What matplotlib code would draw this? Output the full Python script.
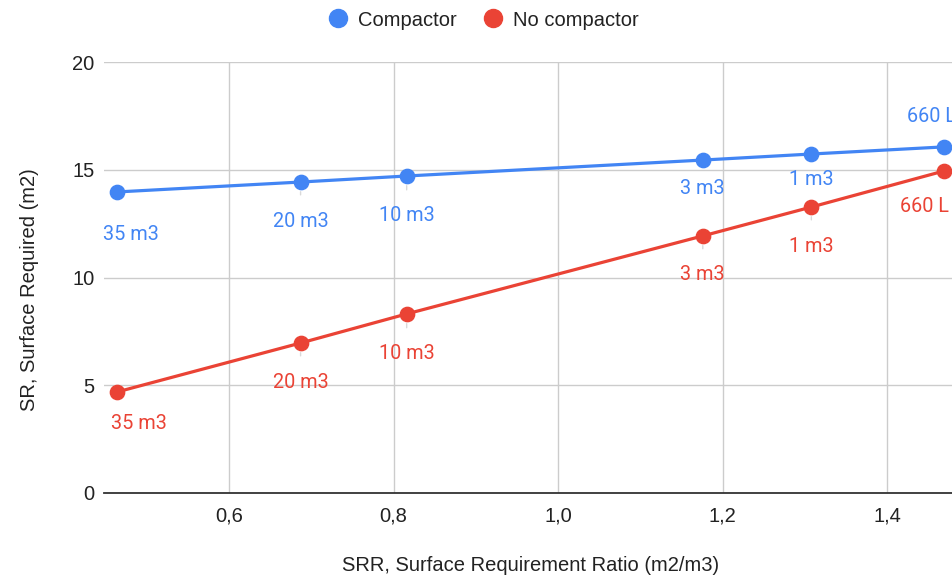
import matplotlib.pyplot as plt
from matplotlib.lines import Line2D

plt.rcParams['font.family'] = ['Liberation Sans', 'DejaVu Sans']

# data
srr = [0.464, 0.687, 0.816, 1.176, 1.308, 1.469]
sr_compactor = [13.97, 14.43, 14.71, 15.45, 15.73, 16.06]
sr_no_compactor = [4.69, 6.96, 8.31, 11.93, 13.27, 14.94]
point_labels = ['35 m3', '20 m3', '10 m3', '3 m3', '1 m3', '660 L']
x_ticks = [0.6, 0.8, 1.0, 1.2, 1.4]
x_tick_labels = ['0,6', '0,8', '1,0', '1,2', '1,4']
y_ticks = [0, 5, 10, 15, 20]

blue = '#4285F4'
red = '#EA4335'
txt = '#222222'

fig = plt.figure(figsize=(9.52, 5.77), dpi=100)
ax = fig.add_axes([104 / 952, 1 - 493 / 577, 1 - 104 / 952, (493 - 62) / 577])

ax.plot(srr, sr_compactor, color=blue, lw=2.3, marker='o', ms=10.3, zorder=3)
ax.plot(srr, sr_no_compactor, color=red, lw=2.3, marker='o', ms=10.3, zorder=3)

# label offsets in pixels (dx, dy)
blue_offsets = [(14, -43), (0, -39), (0, -40), (0, -28), (0, -25), (-12, 30)]
red_offsets = [(22, -32), (0, -39), (0, -40), (0, -39), (0, -39), (-19, -35)]

def put_labels(ys, offsets, color):
    for x, y, lab, (dx, dy) in zip(srr, ys, point_labels, offsets):
        leader = dy <= -38 and dx == 0
        ax.annotate(lab, (x, y), xytext=(dx, dy), textcoords='offset pixels',
                    ha='center', va='center', fontsize=14.3, color=color,
                    family=['Roboto', 'DejaVu Sans'],
                    annotation_clip=False, zorder=4,
                    arrowprops=dict(arrowstyle='-', color='#d9d9d9', lw=1,
                                    shrinkA=10, shrinkB=7) if leader else None)

put_labels(sr_compactor, blue_offsets, blue)
put_labels(sr_no_compactor, red_offsets, red)

ax.set_xlim(0.448, 1.479)
ax.set_ylim(0, 20)
ax.set_xticks(x_ticks)
ax.set_xticklabels(x_tick_labels)
ax.set_yticks(y_ticks)
ax.tick_params(length=0, labelsize=14.5, colors=txt)
ax.tick_params(axis='y', pad=7)
ax.tick_params(axis='x', pad=10)
ax.grid(True, color='#cccccc', lw=1)
ax.set_axisbelow(True)
for s in ['top', 'right', 'left']:
    ax.spines[s].set_visible(False)
ax.spines['bottom'].set_color('#333333')
ax.spines['bottom'].set_linewidth(1.3)

fig.text(30 / 952, 1 - 290 / 577, 'SR, Surface Required (m2)', rotation=90,
         ha='center', va='center', fontsize=14.5, color=txt)
fig.text(531 / 952, 1 - 571 / 577, 'SRR, Surface Requirement Ratio (m2/m3)',
         ha='center', va='baseline', fontsize=14.5, color=txt)

handles = [Line2D([], [], ls='', marker='o', ms=13, color=blue),
           Line2D([], [], ls='', marker='o', ms=13, color=red)]
fig.legend(handles, ['Compactor', 'No compactor'], loc='center',
           bbox_to_anchor=(484 / 952, 1 - 20 / 577), ncol=2, frameon=False,
           fontsize=14.5, handlelength=0.8, handletextpad=0.6, columnspacing=1.4,
           labelcolor=txt)

fig.savefig('out.png', dpi=100)
